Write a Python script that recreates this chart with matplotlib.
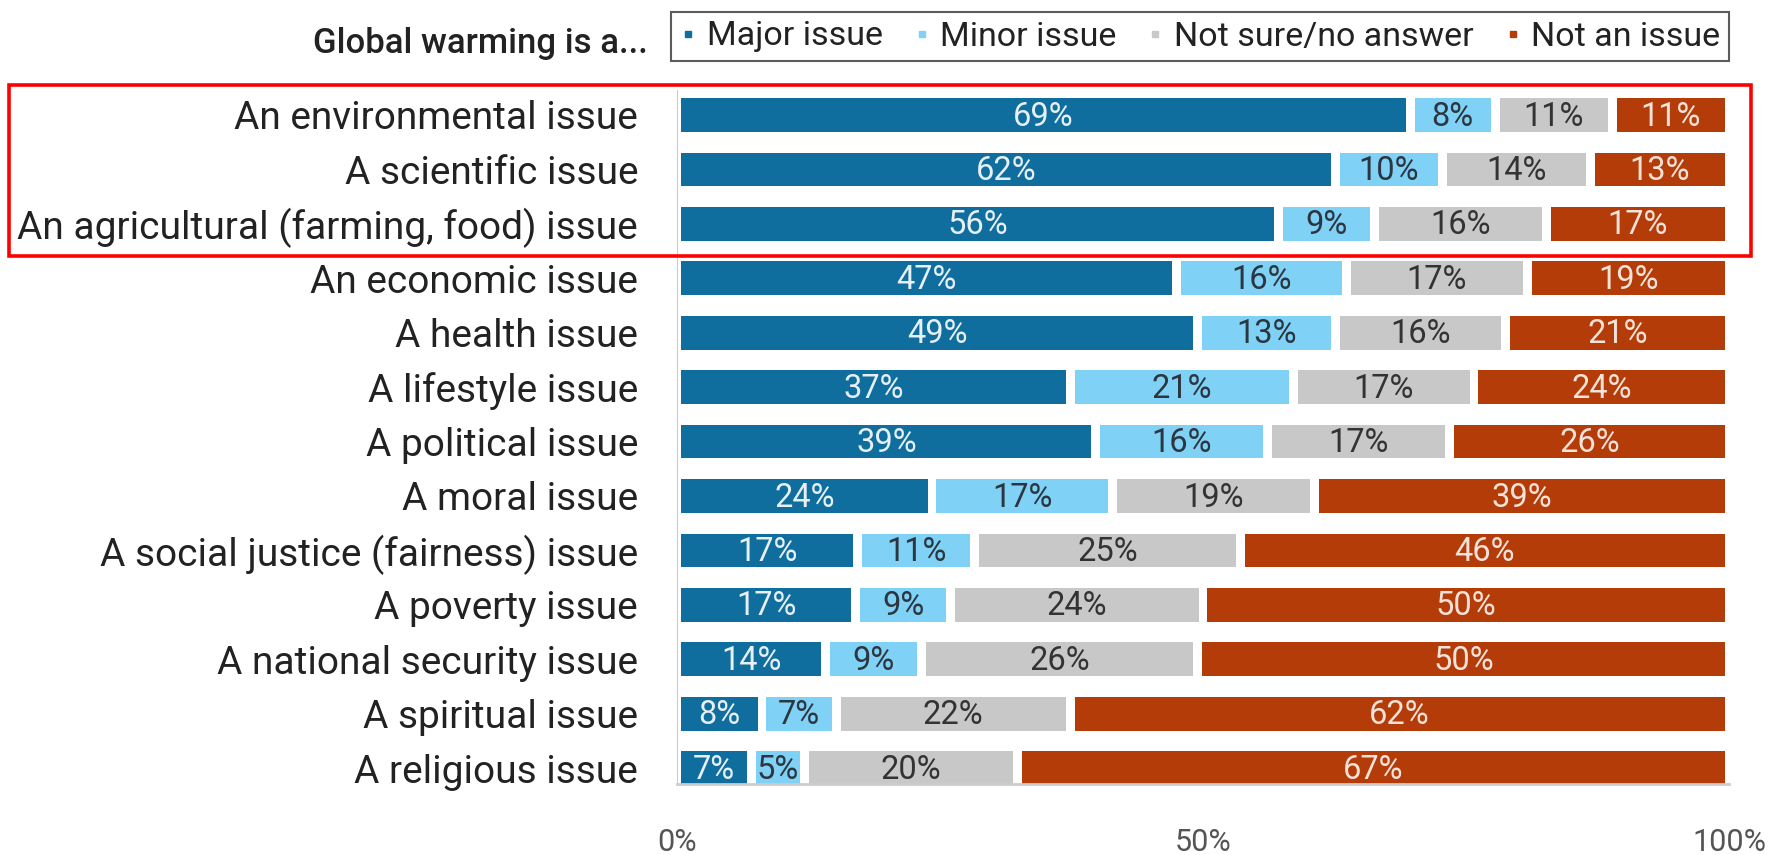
import numpy as np
import matplotlib.pyplot as plt
from matplotlib.lines import Line2D
from matplotlib.patches import Rectangle

plt.rcParams['font.family'] = ['Roboto', 'DejaVu Sans']

categories = ['An environmental issue', 'A scientific issue',
              'An agricultural (farming, food) issue', 'An economic issue',
              'A health issue', 'A lifestyle issue', 'A political issue',
              'A moral issue', 'A social justice (fairness) issue',
              'A poverty issue', 'A national security issue',
              'A spiritual issue', 'A religious issue']
major = [69, 62, 56, 47, 49, 37, 39, 24, 17, 17, 14, 8, 7]
minor = [8, 10, 9, 16, 13, 21, 16, 17, 11, 9, 9, 7, 5]
not_sure = [11, 14, 16, 17, 16, 17, 17, 19, 25, 24, 26, 22, 20]
not_issue = [11, 13, 17, 19, 21, 24, 26, 39, 46, 50, 50, 62, 67]
series_names = ['Major issue', 'Minor issue', 'Not sure/no answer', 'Not an issue']

colors = ['#0f6e9e', '#7fd1f5', '#c8c8c8', '#b33c08']
text_colors = ['#e6f0f6', '#2b3640', '#333333', '#f6e2d8']

fig = plt.figure(figsize=(17.75, 8.55), dpi=100)
ax = fig.add_axes([0.3814, 0.0825, 0.5927, 0.8117])

data = np.array([major, minor, not_sure, not_issue], dtype=float)
shares = data / data.sum(axis=0) * 100   # 100% stacked
y = np.arange(len(categories))
gap = 0.85
left = np.zeros(len(categories))
for k in range(4):
    w = shares[k]
    ax.barh(y, w - gap, left=left + gap / 2, height=0.62, color=colors[k])
    for yi, l, ww, v in zip(y, left, w, data[k].astype(int)):
        ax.text(l + ww / 2, yi + 0.03, f'{v}%', ha='center', va='center',
                fontsize=23.5, color=text_colors[k])
    left += w

ax.set_xlim(0, 100)
ax.set_ylim(12.3, -0.45)
ax.set_yticks(y, categories, fontsize=28, color='#222222')
ax.tick_params(axis='y', length=0, pad=28)
ax.set_xticks([0, 50, 100], ['0%', '50%', '100%'], fontsize=22, color='#555555')
ax.tick_params(axis='x', length=0, pad=31)
for s in ['top', 'right']:
    ax.spines[s].set_visible(False)
ax.spines['left'].set_color('#cccccc')
ax.spines['bottom'].set_color('#cccccc')
ax.spines['bottom'].set_linewidth(2)

handles = [Line2D([], [], marker='s', markersize=4, linestyle='none', color=c)
           for c in colors]
leg = fig.legend(handles, series_names, loc='center',
                 bbox_to_anchor=(671 / 1775, 1 - 62 / 855, 1058 / 1775, 51 / 855),
                 mode='expand', ncol=4, frameon=True, fancybox=False,
                 edgecolor='#333333', fontsize=24.5, handlelength=0.5,
                 handletextpad=0.3, borderaxespad=0, borderpad=0.25,
                 columnspacing=1.0, labelcolor='#222222')
leg.get_frame().set_linewidth(1.5)

fig.text(648 / 1775, 1 - 43 / 855, 'Global warming is a...', ha='right',
         va='center', fontsize=25, fontweight='medium', color='#222222')

fig.patches.append(Rectangle((9 / 1775, 1 - 256 / 855), 1742 / 1775, 171 / 855,
                             transform=fig.transFigure, fill=False,
                             edgecolor='#ff0000', linewidth=2.6))

fig.savefig('out.png', dpi=100)
